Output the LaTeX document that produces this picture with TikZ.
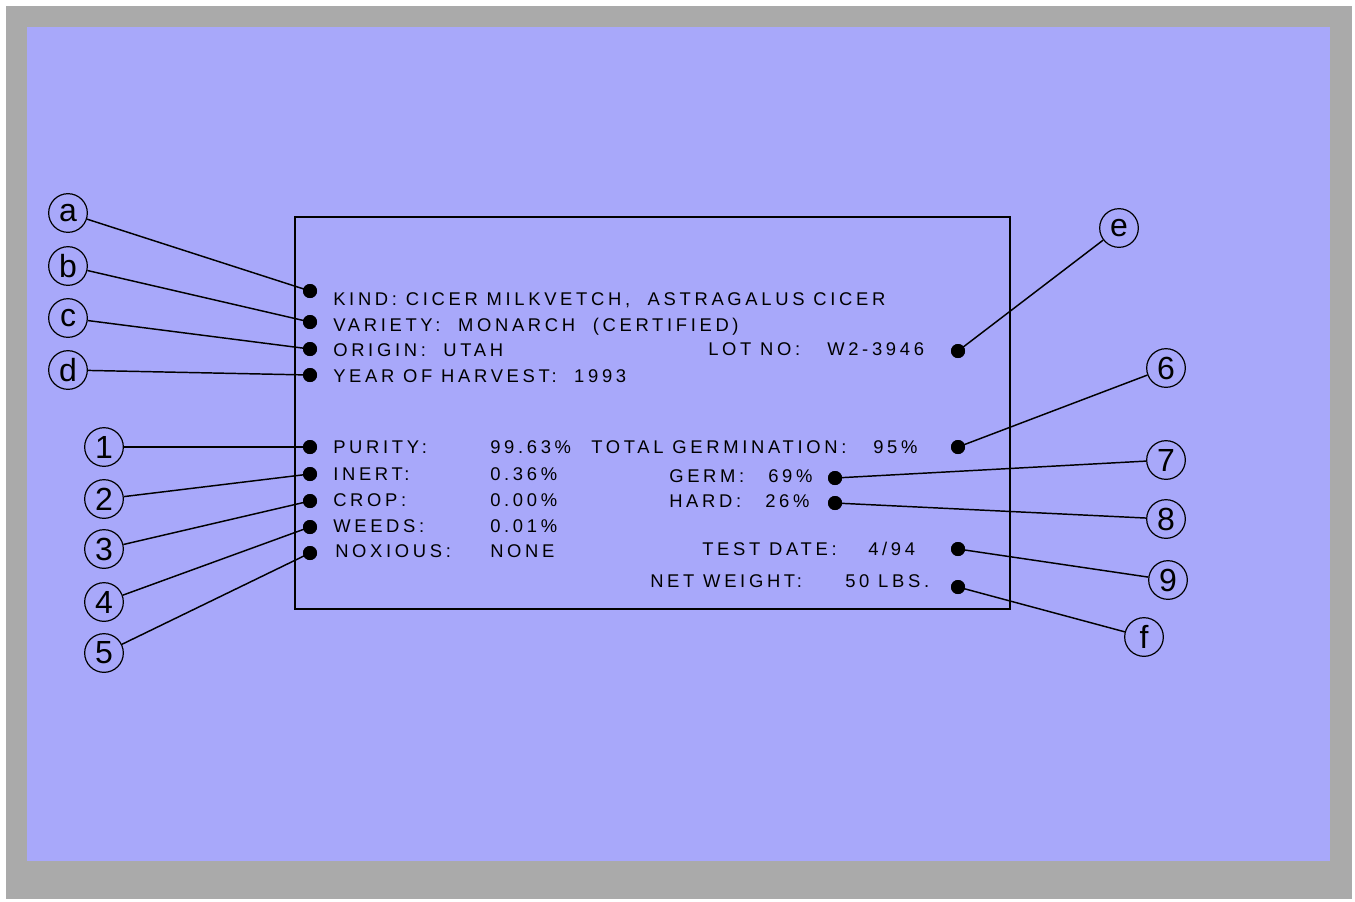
\documentclass[tikz,border=0pt]{standalone}
\usepackage{fontspec}
\newfontfamily\tagfont[LetterSpace=20]{Liberation Sans}
\newfontfamily\keyfont{Liberation Sans}
\definecolor{frame}{RGB}{170,170,170}
\definecolor{field}{RGB}{168,168,250}
\begin{document}
\begin{tikzpicture}[x=0.75pt,y=0.75pt,yscale=-1,xscale=1,
    txt/.style={anchor=west,inner sep=0pt,text height=9.9pt,text depth=0pt,font=\tagfont\fontsize{13.8}{16}\selectfont},
    key/.style={circle,draw,line width=0.9pt,minimum size=29pt,inner sep=0pt,font=\keyfont\fontsize{24}{24}\selectfont},
    dot/.style={circle,fill=black,minimum size=10.5pt,inner sep=0pt},
    lead/.style={line width=1.1pt}]
\useasboundingbox (0,0) rectangle (1355,901);
\fill [frame] (6,6) rectangle (1352,899);
\fill [field] (27,27) rectangle (1330,861);
\draw [line width=1.5pt] (295,217) rectangle (1010,609);

% left column dots
\node [dot] (da) at (310,291) {};
\node [dot] (db) at (310,322) {};
\node [dot] (dc) at (310,349) {};
\node [dot] (dd) at (310,375) {};
\node [dot] (d1) at (310,447) {};
\node [dot] (d2) at (310,474) {};
\node [dot] (d3) at (310,501) {};
\node [dot] (d4) at (310,527) {};
\node [dot] (d5) at (310,553) {};
% right column dots
\node [dot] (de) at (958,351) {};
\node [dot] (d6) at (958,447) {};
\node [dot] (d7) at (835,478) {};
\node [dot] (d8) at (835,503) {};
\node [dot] (d9) at (958,549) {};
\node [dot] (df) at (958,587) {};

% keys
\node [key] (ka) at (68,213) {a};
\node [key] (kb) at (68,266) {b};
\node [key] (kc) at (68,318) {c};
\node [key] (kd) at (68,370) {d};
\node [key] (k1) at (104,447) {1};
\node [key] (k2) at (104,499) {2};
\node [key] (k3) at (104,549) {3};
\node [key] (k4) at (104,602) {4};
\node [key] (k5) at (104,653) {5};
\node [key] (ke) at (1119,228) {e};
\node [key] (k6) at (1166,368) {6};
\node [key] (k7) at (1166,460) {7};
\node [key] (k8) at (1166,519) {8};
\node [key] (k9) at (1168,580) {9};
\node [key] (kf) at (1144,637) {f};

\foreach \n in {a,b,c,d,1,2,3,4,5,e,6,7,8,9,f}
    \draw [lead] (k\n) -- (d\n.center);
\foreach \n in {a,b,c,d,1,2,3,4,5,e,6,7,8,9,f}
    \fill (d\n) circle (5.25pt);

% tag text
\node [txt] (kind) at (333,299) {KIND: CICER MILKVETCH,\ \ ASTRAGALUS CICER};
\node [txt] (variety) at (333,325) {VARIETY:\ \ MONARCH\ \ (CERTIFIED)};
\node [txt] (origin) at (333,350) {ORIGIN:\ \ UTAH};
\node [txt] (lot) at (708,349) {LOT NO:};
\node [txt] (lotno) at (827,349) {W2-3946};
\node [txt] (year) at (333,376) {YEAR OF HARVEST:\ \ 1993};
\node [txt] (purity) at (333,447) {PURITY:};
\node [txt] (inert) at (333,474) {INERT:};
\node [txt] (crop) at (333,500) {CROP:};
\node [txt] (weeds) at (333,526) {WEEDS:};
\node [txt] (noxious) at (335,551) {NOXIOUS:};
\node [txt] (vpurity) at (490,447) {99.63\%};
\node [txt] (vinert) at (490,474) {0.36\%};
\node [txt] (vcrop) at (490,500) {0.00\%};
\node [txt] (vweeds) at (490,526) {0.01\%};
\node [txt] (vnoxious) at (490,551) {NONE};
\node [txt] (total) at (591,447) {TOTAL GERMINATION:};
\node [txt] (vtotal) at (873,447) {95\%};
\node [txt] (germ) at (669,476) {GERM:};
\node [txt] (vgerm) at (768,476) {69\%};
\node [txt] (hard) at (669,501) {HARD:};
\node [txt] (vhard) at (765,501) {26\%};
\node [txt] (test) at (702,549) {TEST DATE:};
\node [txt] (vtest) at (868,549) {4/94};
\node [txt] (net) at (650,581) {NET WEIGHT:};
\node [txt] (vnet) at (845,581) {50 LBS.};
\end{tikzpicture}
\end{document}
